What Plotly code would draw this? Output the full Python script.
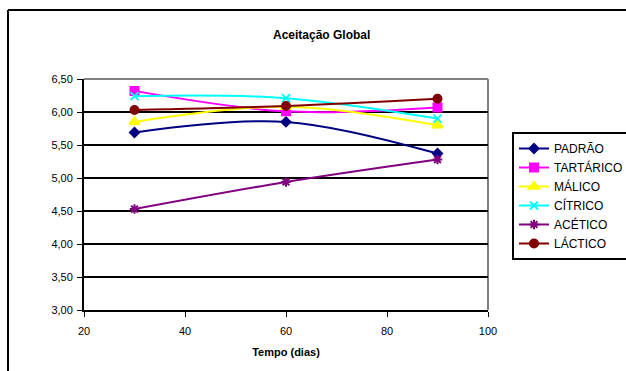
import plotly.graph_objects as go

dias = [30, 60, 90]
padrao = [5.69, 5.85, 5.37]
tartarico = [6.32, 6.01, 6.07]
malico = [5.85, 6.08, 5.80]
citrico = [6.24, 6.21, 5.90]
acetico = [4.53, 4.94, 5.28]
lactico = [6.03, 6.09, 6.20]

series = [
    ("PADRÃO", padrao, "#000080", "diamond", 7),
    ("TARTÁRICO", tartarico, "#FF00FF", "square", 8),
    ("MÁLICO", malico, "#FFFF00", "triangle-up", 9),
    ("CÍTRICO", citrico, "#00FFFF", "x-thin-open", 8),
    ("ACÉTICO", acetico, "#800080", "asterisk-open", 8),
    ("LÁCTICO", lactico, "#800000", "circle", 8),
]

FONT = "Liberation Sans, Arial, sans-serif"
fig = go.Figure()
for name, vals, col, sym, sz in series:
    fig.add_trace(go.Scatter(
        x=dias, y=vals, name=name, mode="lines+markers",
        line=dict(color=col, width=2, shape="spline", smoothing=1.0),
        marker=dict(symbol=sym, size=sz, color=col, line=dict(color=col, width=2)),
    ))

W, H = 626, 371
L, R, T, B = 84, 138, 79, 61
pw = W - L - R
ph = H - T - B

def px(xp):
    return (xp - L) / pw

def py(yp):
    return (H - B - yp) / ph

fig.update_layout(
    width=W, height=H,
    margin=dict(l=L, r=R, t=T, b=B, autoexpand=False),
    paper_bgcolor="white", plot_bgcolor="white",
    separators=",.",
    font=dict(family=FONT, size=11, color="black"),
    showlegend=True,
    legend=dict(
        xref="container", yref="container",
        x=512 / W, y=1 - 132 / H, xanchor="left", yanchor="top",
        bordercolor="black", borderwidth=2, bgcolor="white",
        font=dict(size=12, family=FONT), tracegroupgap=0, itemwidth=30,
    ),
    xaxis=dict(
        range=[20, 100], tickvals=[20, 40, 60, 80, 100], showgrid=False,
        showline=True, linecolor="black", linewidth=2, mirror=False,
        ticks="outside", ticklen=5, tickwidth=1, tickcolor="black",
        tickfont=dict(size=11), zeroline=False, ticklabelstandoff=5,
        title=dict(text="<b>Tempo (dias)</b>", font=dict(size=11), standoff=12),
    ),
    yaxis=dict(
        range=[3.0, 6.5], dtick=0.5, tick0=3.0, tickformat=".2f",
        showgrid=True, gridcolor="black", gridwidth=2,
        showline=True, linecolor="black", linewidth=2,
        ticks="outside", ticklen=5, tickwidth=1, tickcolor="black",
        tickfont=dict(size=11), zeroline=False, ticklabelstandoff=2,
    ),
    annotations=[dict(
        text="<b>Aceitação Global</b>", x=px(321), y=py(35), xref="paper", yref="paper",
        showarrow=False, font=dict(size=12, family=FONT), xanchor="center", yanchor="middle",
    )],
    shapes=[
        dict(type="line", xref="paper", yref="paper", x0=0, x1=1, y0=1, y1=1,
             line=dict(color="#808080", width=2), layer="below"),
        dict(type="line", xref="paper", yref="paper", x0=1, x1=1, y0=0, y1=1,
             line=dict(color="#808080", width=2), layer="below"),
        dict(type="line", xref="paper", yref="paper", x0=px(8), x1=px(8), y0=py(10), y1=py(372),
             line=dict(color="black", width=2)),
        dict(type="line", xref="paper", yref="paper", x0=px(8), x1=px(627), y0=py(10), y1=py(10),
             line=dict(color="black", width=2)),
    ],
)

fig.write_html("out.html")
